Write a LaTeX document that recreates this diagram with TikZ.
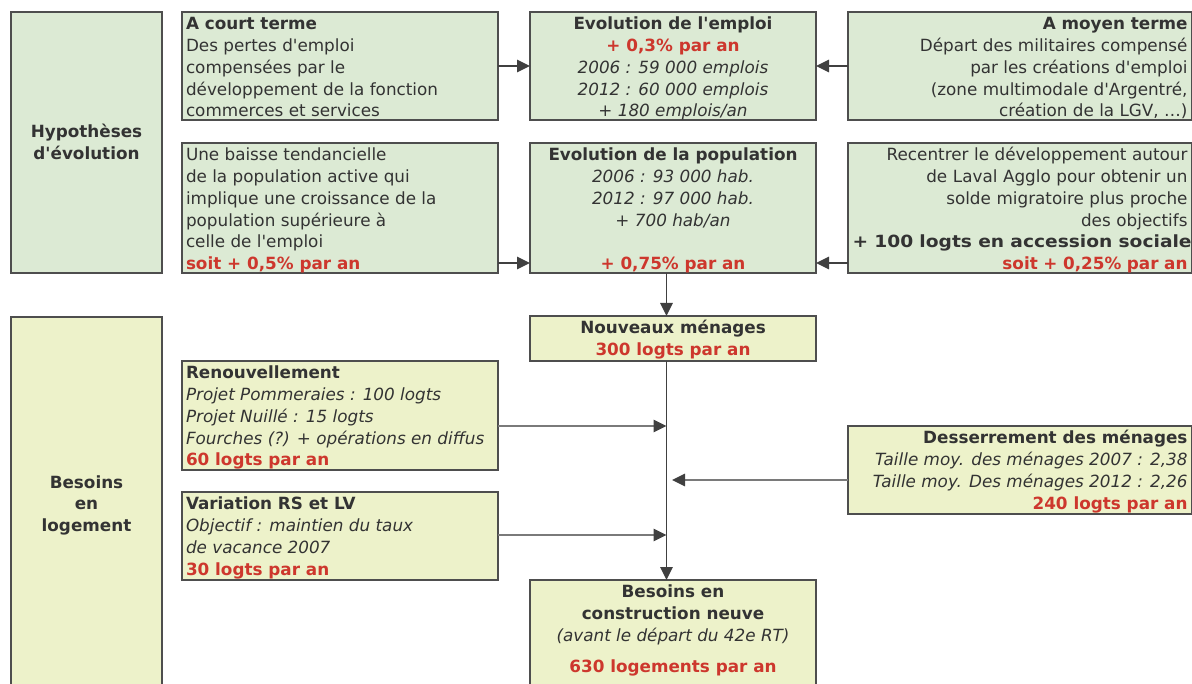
\documentclass[tikz,border=0pt]{standalone}
\usepackage{fontspec}
\usepackage{graphicx}
\setmainfont{DejaVu Sans}[Ligatures=TeXOff]
\usetikzlibrary{arrows.meta,calc}
\definecolor{gfill}{HTML}{DCEAD4}
\definecolor{yfill}{HTML}{EDF2CA}
\definecolor{bordc}{HTML}{4E4E4E}
\definecolor{tdark}{HTML}{333333}
\definecolor{tred}{HTML}{CD372D}
\definecolor{feedc}{HTML}{7A7A7A}
\definecolor{mainc}{HTML}{404040}
\newcommand\rd[1]{\textcolor{tred}{\textbf{#1}}}
\tikzset{
  boxbase/.style={draw=bordc, line width=1.8pt, inner sep=0pt, outer sep=0pt, anchor=north west},
  gbox/.style={boxbase, fill=gfill},
  ybox/.style={boxbase, fill=yfill},
  txt/.style={inner sep=0pt, outer sep=0pt, text=tdark, font=\fontsize{16.8}{21.7}\selectfont},
  feed/.style={draw=feedc, line width=1.6pt, -{Triangle[length=13pt,width=12.5pt,color=mainc]}},
  mainln/.style={draw=mainc, line width=1.6pt, -{Triangle[length=13pt,width=12.5pt,color=mainc]}},
}
\begin{document}
\begin{tikzpicture}[x=1pt,y=-1pt]
\useasboundingbox (0,0) rectangle (1192,684);
% --- boxes ---
\node[gbox, minimum width=151pt, minimum height=261pt] (hyp) at (11,12) {};
\node[gbox, minimum width=316pt, minimum height=108pt] (ct) at (182,12) {};
\node[gbox, minimum width=286pt, minimum height=108pt] (emp) at (530,12) {};
\node[gbox, minimum width=344pt, minimum height=108pt] (mt) at (848,12) {};
\node[gbox, minimum width=316pt, minimum height=130pt] (bai) at (182,143) {};
\node[gbox, minimum width=286pt, minimum height=130pt] (pop) at (530,143) {};
\node[gbox, minimum width=344pt, minimum height=130pt] (rec) at (848,143) {};
\node[ybox, minimum width=151pt, minimum height=380pt] (bes) at (11,317) {};
\node[ybox, minimum width=286pt, minimum height=45pt] (nm) at (530,316) {};
\node[ybox, minimum width=316pt, minimum height=109pt] (ren) at (182,361) {};
\node[ybox, minimum width=316pt, minimum height=88pt] (var) at (182,492) {};
\node[ybox, minimum width=344pt, minimum height=88pt] (des) at (848,426) {};
\node[ybox, minimum width=286pt, minimum height=120pt] (bc) at (530,580) {};
% --- texts ---
\node[txt, anchor=north, align=center] (hypT) at ([yshift=-110.8pt]hyp.north)
  {\strut\textbf{Hypothèses}\\\textbf{d'évolution}};
\node[txt, anchor=north west, align=left] (ctT) at ([xshift=4pt,yshift=-2.8pt]ct.north west)
  {\strut\textbf{A court terme}\\Des pertes d'emploi\\compensées par le\\développement de la fonction\\commerces et services};
\node[txt, anchor=north, align=center] (empT) at ([yshift=-2.8pt]emp.north)
  {\strut\textbf{Evolution de l'emploi}\\\rd{+ 0,3\% par an}\\\textit{2006 : 59 000 emplois}\\\textit{2012 : 60 000 emplois}\\\textit{+ 180 emplois/an}};
\node[txt, anchor=north east, align=right] (mtT) at ([xshift=-4.5pt,yshift=-2.8pt]mt.north east)
  {\strut\textbf{A moyen terme}\\Départ des militaires compensé\\par les créations d'emploi\\(zone multimodale d'Argentré,\\création de la LGV, …)};
\node[txt, anchor=north west, align=left] (baiT) at ([xshift=4pt,yshift=-2.8pt]bai.north west)
  {\strut Une baisse tendancielle\\de la population active qui\\implique une croissance de la\\population supérieure à\\celle de l'emploi\\\rd{soit + 0,5\% par an}};
\node[txt, anchor=north, align=center] (popT) at ([yshift=-2.8pt]pop.north)
  {\strut\textbf{Evolution de la population}\\\textit{2006 : 93 000 hab.}\\\textit{2012 : 97 000 hab.}\\\textit{+ 700 hab/an}\\\mbox{}\\\rd{+ 0,75\% par an}};
\node[txt, anchor=north east, align=right, text width=335pt] (recT) at ([xshift=-4.5pt,yshift=-2.8pt]rec.north east)
  {\strut Recentrer le développement autour\\de Laval Agglo pour obtenir un\\solde migratoire plus proche\\des objectifs\\\makebox[335pt][l]{\scalebox{1.11}[1]{\textbf{+ 100 logts en accession sociale}}}\\\rd{soit + 0,25\% par an}};
\node[txt, anchor=north, align=center] (besT) at ([yshift=-156.1pt]bes.north)
  {\strut\textbf{Besoins}\\\textbf{en}\\\textbf{logement}};
\node[txt, anchor=north, align=center] (nmT) at ([yshift=-2.8pt]nm.north)
  {\strut\textbf{Nouveaux ménages}\\\rd{300 logts par an}};
\node[txt, anchor=north west, align=left] (renT) at ([xshift=4pt,yshift=-2.8pt]ren.north west)
  {\strut\textbf{Renouvellement}\\\textit{Projet Pommeraies : 100 logts}\\\textit{Projet Nuillé : 15 logts}\\\textit{Fourches (?) + opérations en diffus}\\\rd{60 logts par an}};
\node[txt, anchor=north west, align=left] (varT) at ([xshift=4pt,yshift=-2.8pt]var.north west)
  {\strut\textbf{Variation RS et LV}\\\textit{Objectif : maintien du taux}\\\textit{de vacance 2007}\\\rd{30 logts par an}};
\node[txt, anchor=north east, align=right] (desT) at ([xshift=-4.5pt,yshift=-2.8pt]des.north east)
  {\strut\textbf{Desserrement des ménages}\\\textit{Taille moy. des ménages 2007 : 2,38}\\\textit{Taille moy. Des ménages 2012 : 2,26}\\\rd{240 logts par an}};
\node[txt, anchor=north, align=center] (bcT) at ([yshift=-2.8pt]bc.north)
  {\strut\textbf{Besoins en}\\\textbf{construction neuve}\\\textit{(avant le départ du 42e RT)}\\[9.6pt]\rd{630 logements par an}};
% --- junction coordinates on the main vertical line ---
\coordinate (j1) at (666.5,426);
\coordinate (j2) at (672,480);
\coordinate (j3) at (666.5,535);
% --- connectors ---
\draw[mainln] (ct.east) -- (emp.west);
\draw[mainln] (mt.west) -- (emp.east);
\draw[mainln] ([yshift=10pt]bai.south east) -- ([yshift=10pt]pop.south west);
\draw[mainln] ([yshift=10pt]rec.south west) -- ([yshift=10pt]pop.south east);
\draw[mainln] ([xshift=-6.5pt]pop.south) -- ([xshift=-6.5pt]nm.north);
\draw[mainln] ([xshift=-6.5pt]nm.south) -- ([xshift=-6.5pt]bc.north);
\draw[feed] (ren.east |- j1) -- (j1);
\draw[feed] (des.west |- j2) -- (j2);
\draw[feed] (var.east |- j3) -- (j3);
\end{tikzpicture}
\end{document}
